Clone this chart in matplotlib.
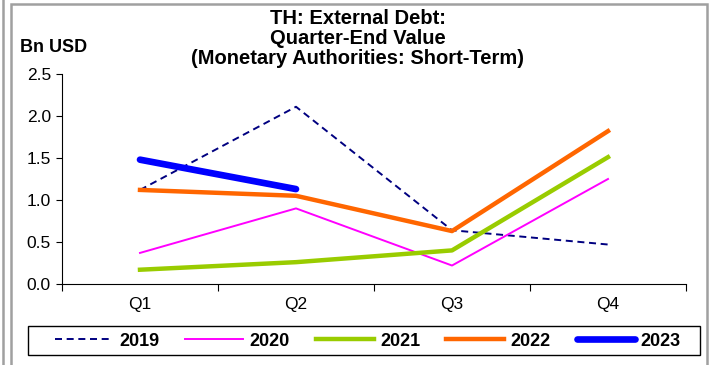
import matplotlib
matplotlib.use("Agg")
import matplotlib.pyplot as plt
from matplotlib.patches import Rectangle
from matplotlib.lines import Line2D

plt.rcParams['font.family'] = ['Liberation Sans', 'DejaVu Sans']

# Quarter-end short-term external debt of the monetary authorities, bn USD
quarters = ['Q1', 'Q2', 'Q3', 'Q4']
debt_2019 = [1.12, 2.11, 0.64, 0.47]
debt_2020 = [0.37, 0.90, 0.22, 1.25]
debt_2021 = [0.17, 0.26, 0.40, 1.51]
debt_2022 = [1.12, 1.05, 0.63, 1.82]
debt_2023 = [1.48, 1.13]
title_lines = ['TH: External Debt:', 'Quarter-End Value',
               '(Monetary Authorities: Short-Term)']

W, H = 712, 365
fig = plt.figure(figsize=(W / 100, H / 100), dpi=100)

# outer panel frame
fig.add_artist(Rectangle((11 / W, -0.05), (707 - 11) / W, (H - 4) / H + 0.05,
                         transform=fig.transFigure, fill=False,
                         edgecolor='#a0a0a0', lw=1.8))
fig.add_artist(Line2D([3 / W, 3 / W], [0, 1], transform=fig.transFigure,
                      color='#a0a0a0', lw=1.8))

ax = fig.add_axes([62 / W, (H - 284) / H, (686 - 62) / W, (284 - 74) / H])

x = list(range(len(quarters)))
ax.plot(x, debt_2019, color='#000080', lw=1.4, ls=(0, (3.6, 2.4)), label='2019')
ax.plot(x, debt_2020, color='#FF00FF', lw=1.4, label='2020')
ax.plot(x, debt_2021, color='#99CC00', lw=3.2, label='2021')
ax.plot(x, debt_2022, color='#FF6600', lw=3.2, label='2022')
ax.plot(x[:len(debt_2023)], debt_2023, color='#0000FF', lw=4.8,
        solid_capstyle='round', label='2023')

ax.set_xlim(-0.5, 3.5)
ax.set_ylim(0, 2.5)
yticks = [0, 0.5, 1.0, 1.5, 2.0, 2.5]
ax.set_yticks(yticks)
ax.set_yticklabels([f'{v:.1f}' for v in yticks])
ax.set_xticks(x)
ax.set_xticklabels(quarters)
ax.set_xticks([-0.5, 0.5, 1.5, 2.5, 3.5], minor=True)
ax.tick_params(axis='x', which='major', length=0, pad=9, labelsize=12.5)
ax.tick_params(axis='x', which='minor', length=5, width=0.8, direction='out')
ax.tick_params(axis='y', length=4, width=0.8, labelsize=12.5, pad=4)
for side in ('top', 'right'):
    ax.spines[side].set_visible(False)
for side in ('left', 'bottom'):
    ax.spines[side].set_linewidth(0.8)

for line, ypix in zip(title_lines, [18, 38, 59]):
    fig.text(358 / W, 1 - ypix / H, line, ha='center', va='center',
             fontsize=14.5, fontweight='bold')
fig.text(20 / W, 1 - 48 / H, 'Bn USD', ha='left', va='center',
         fontsize=13, fontweight='bold')

# legend box drawn separately so it can span the panel width
fig.add_artist(Rectangle((28 / W, (H - 355) / H), (700 - 28) / W, (355 - 326) / H,
                         transform=fig.transFigure, fill=False,
                         edgecolor='black', lw=1.0))
fig.legend(loc='center', ncol=5, bbox_to_anchor=(368 / W, (H - 341) / H),
           prop={'weight': 'bold', 'size': 13}, handlelength=3.2,
           handletextpad=0.35, columnspacing=1.45, frameon=False,
           borderaxespad=0, borderpad=0)

fig.savefig('out.png', dpi=100)
